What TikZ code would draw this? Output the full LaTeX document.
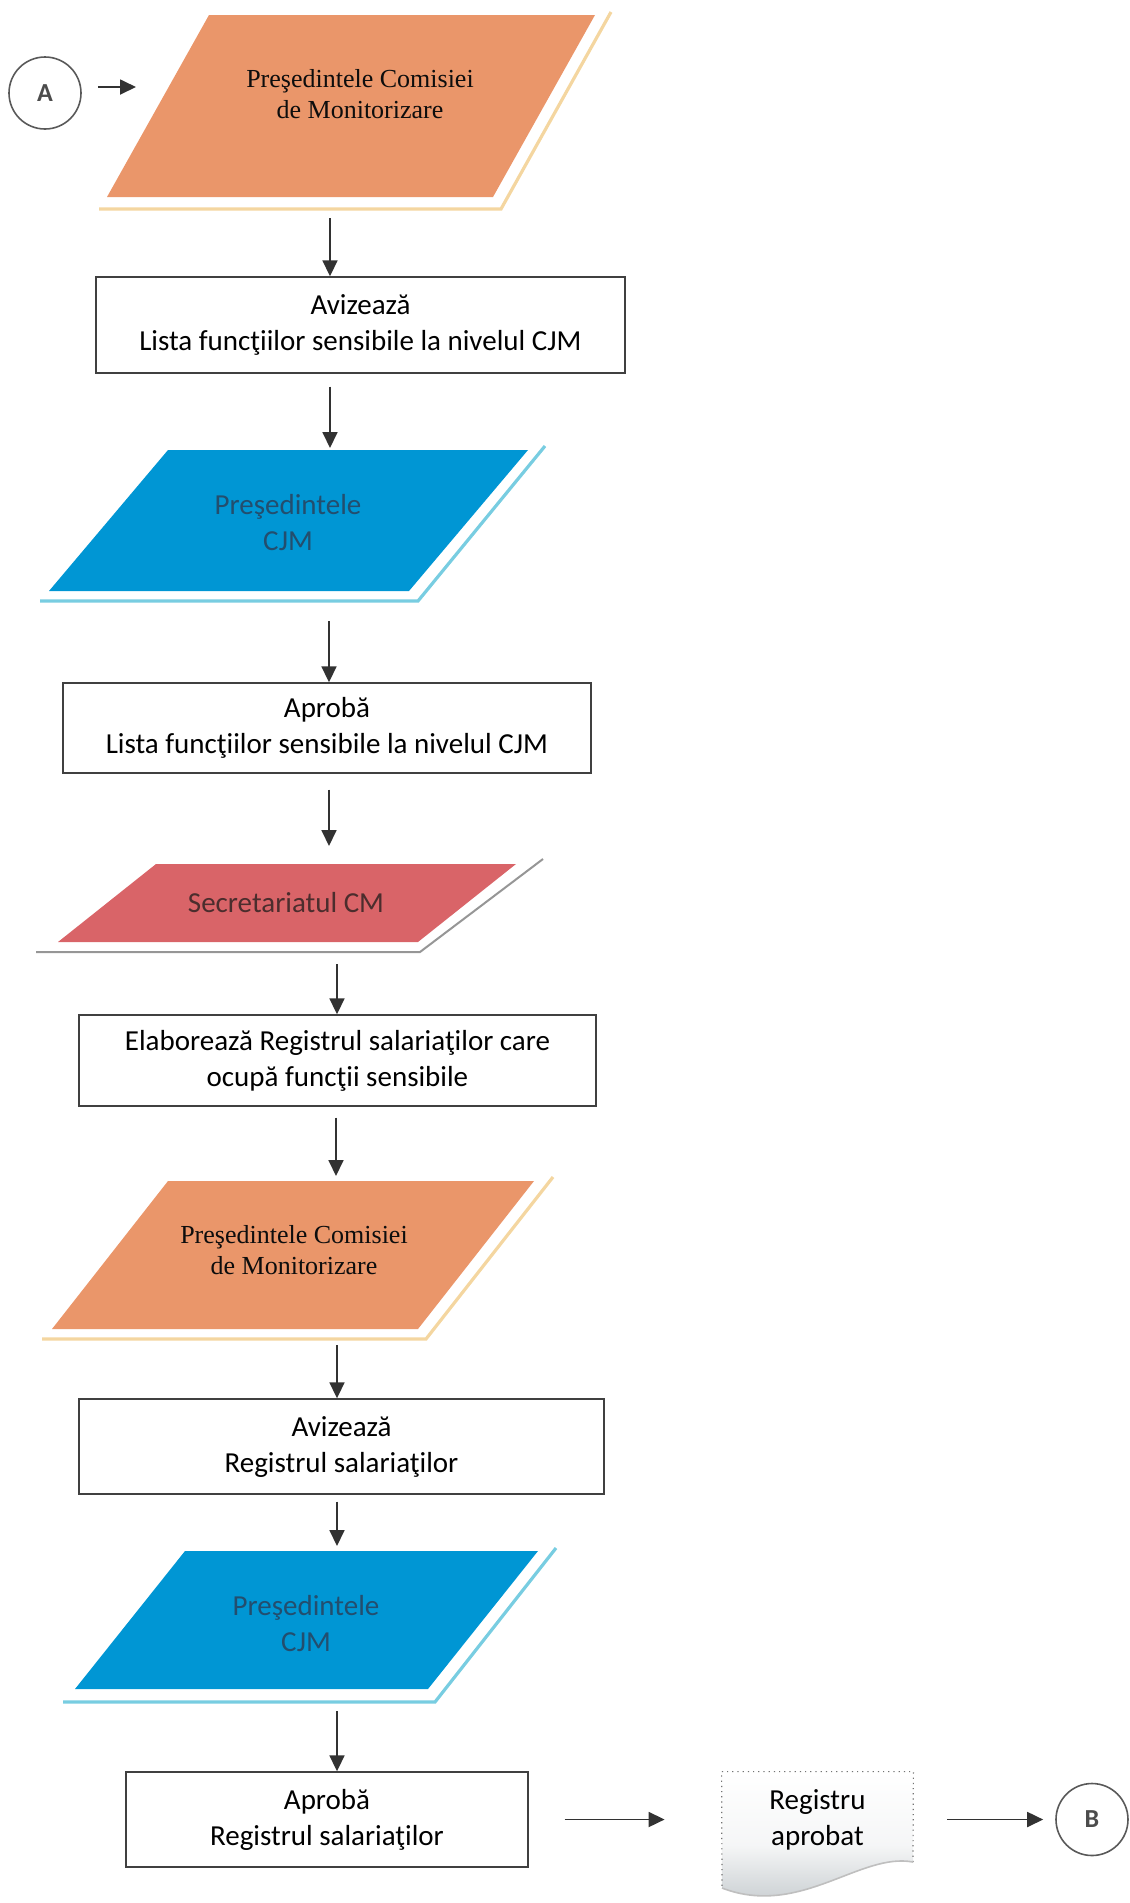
\documentclass[tikz,border=0pt]{standalone}
\usepackage{fontspec}
\setmainfont{Liberation Serif}
\setsansfont{Carlito}
\usetikzlibrary{arrows.meta,positioning,calc}

\definecolor{orangefill}{RGB}{234,150,106}
\definecolor{orangeline}{RGB}{244,214,160}
\definecolor{bluefill}{RGB}{0,150,212}
\definecolor{blueline}{RGB}{120,205,225}
\definecolor{bluetext}{RGB}{35,78,110}
\definecolor{redfill}{RGB}{217,100,104}
\definecolor{redline}{RGB}{150,150,150}
\definecolor{redtext}{RGB}{75,45,45}
\definecolor{arrowgray}{RGB}{50,50,50}
\definecolor{docgray}{RGB}{190,196,200}

\begin{document}
\begin{tikzpicture}[x=0.5pt, y=-0.5pt,
	flow/.style={draw=arrowgray, line width=0.9pt, -{Triangle[length=8pt,width=7.5pt]}},
	stepbox/.style={draw=black!75, line width=0.7pt, fill=white, inner sep=0pt, align=center,
		font=\sffamily\fontsize{14.5}{18}\selectfont},
	connector/.style={circle, draw=black!65, line width=0.8pt, minimum size=36pt, inner sep=0pt,
		font=\sffamily\bfseries\fontsize{13}{15}\selectfont, text=black!70},
	serifname/.style={align=center, text=black!95, font=\rmfamily\fontsize{13}{15.8}\selectfont},
	sansname/.style={align=center, font=\sffamily\fontsize{14.5}{18}\selectfont},
	orangepar/.style={fill=orangefill},
	orangeshd/.style={draw=orangeline, line width=1.6pt},
	bluepar/.style={fill=bluefill},
	blueshd/.style={draw=blueline, line width=1.6pt},
	redpar/.style={fill=redfill},
	redshd/.style={draw=redline, line width=1pt}]

	\useasboundingbox (0,0) rectangle (1130,1903);

	% connector A
	\node[connector] (A) at (45,93) {A};
	\coordinate (p1in) at (136,87);
	\draw[flow, shorten <=8pt] (A.east |- p1in) -- (p1in);

	% Presedintele Comisiei de Monitorizare (1)
	\draw[orangeshd] (99,209) -- (501,209) -- (611,12);
	\path[orangepar] (107,197) -- (493,197) -- (595,15) -- (209,15) -- cycle;
	\node[serifname] (p1) at (360,94) {Preşedintele Comisiei\\de Monitorizare};
	\coordinate (p1out) at (330,218);

	\node[stepbox, minimum width=264.5pt, minimum height=48pt] (b1) at (360.5,325)
		{Avizează\\Lista funcţiilor sensibile la nivelul CJM};

	% Presedintele CJM (1)
	\draw[blueshd] (40,601) -- (418,601) -- (545,446);
	\path[bluepar] (49,591) -- (409,591) -- (528,450) -- (168,450) -- cycle;
	\node[sansname, text=bluetext] (p2) at (288,523) {Preşedintele\\CJM};
	\coordinate (p2in) at (330,448);
	\coordinate (p2out) at (329,621);

	\node[stepbox, minimum width=264pt, minimum height=45pt] (b2) at (327,728)
		{Aprobă\\Lista funcţiilor sensibile la nivelul CJM};

	% Secretariatul CM
	\draw[redshd] (36,952) -- (420,952) -- (543,859);
	\path[redpar] (58,942) -- (418,942) -- (516,864) -- (156,864) -- cycle;
	\node[sansname, text=redtext] (p3) at (286,903) {Secretariatul CM};
	\coordinate (p3in) at (329,846);
	\coordinate (p3out) at (337,964);

	\node[stepbox, minimum width=258.5pt, minimum height=45.5pt] (b3) at (337.5,1060.5)
		{Elaborează Registrul salariaţilor care\\ocupă funcţii sensibile};

	% Presedintele Comisiei de Monitorizare (2)
	\draw[orangeshd] (42,1339) -- (426,1339) -- (553,1177);
	\path[orangepar] (52,1329) -- (418,1329) -- (534,1181) -- (168,1181) -- cycle;
	\node[serifname] (p4) at (294,1250) {Preşedintele Comisiei\\de Monitorizare};
	\coordinate (p4in) at (336,1176);
	\coordinate (p4out) at (337,1345);

	\node[stepbox, minimum width=262.5pt, minimum height=47.5pt] (b4) at (341.5,1446.5)
		{Avizează\\Registrul salariaţilor};

	% Presedintele CJM (2)
	\draw[blueshd] (63,1702) -- (435,1702) -- (556,1548);
	\path[bluepar] (75,1689) -- (428,1689) -- (538,1551) -- (185,1551) -- cycle;
	\node[sansname, text=bluetext] (p5) at (306,1624) {Preşedintele\\CJM};
	\coordinate (p5in) at (337,1546);
	\coordinate (p5out) at (337,1711);

	\node[stepbox, minimum width=201pt, minimum height=47.5pt] (b5) at (327,1819.5)
		{Aprobă\\Registrul salariaţilor};

	% document
	\node[minimum width=95.5pt, minimum height=47.5pt, inner sep=0pt] (doc) at (817.5,1819.5) {};
	\path[top color=white, bottom color=docgray, middle color=white!85!docgray]
		(doc.north west) -- (doc.north east) -- (913,1862)
		.. controls (860,1852) and (800,1918) .. (722,1888) -- cycle;
	\draw[black!55, line width=0.6pt, dotted] (913,1862) -- (doc.north east) -- (doc.north west) -- (722,1888);
	\draw[black!25, line width=0.8pt] (913,1862) .. controls (860,1852) and (800,1918) .. (722,1888);
	\node[sansname] (doctext) at (doc) {Registru\\aprobat};

	\node[connector] (B) at (1092,1819.5) {B};

	% arrows
	\draw[flow] (p1out) -- (b1.north -| p1out);
	\draw[flow, shorten <=6.5pt] (b1.south -| p2in) -- (p2in);
	\draw[flow] (p2out) -- (b2.north -| p2out);
	\draw[flow, shorten <=8pt] (b2.south -| p3in) -- (p3in);
	\draw[flow] (p3out) -- (b3.north -| p3out);
	\draw[flow, shorten <=5.5pt] (b3.south -| p4in) -- (p4in);
	\draw[flow] (p4out) -- (b4.north -| p4out);
	\draw[flow, shorten <=3.5pt] (b4.south -| p5in) -- (p5in);
	\draw[flow] (p5out) -- (b5.north -| p5out);
	\draw[flow, shorten <=18pt, shorten >=28.5pt] (b5.east) -- (doc.west);
	\draw[flow, shorten <=17pt, shorten >=6pt] (doc.east) -- (B.west);

\end{tikzpicture}
\end{document}
